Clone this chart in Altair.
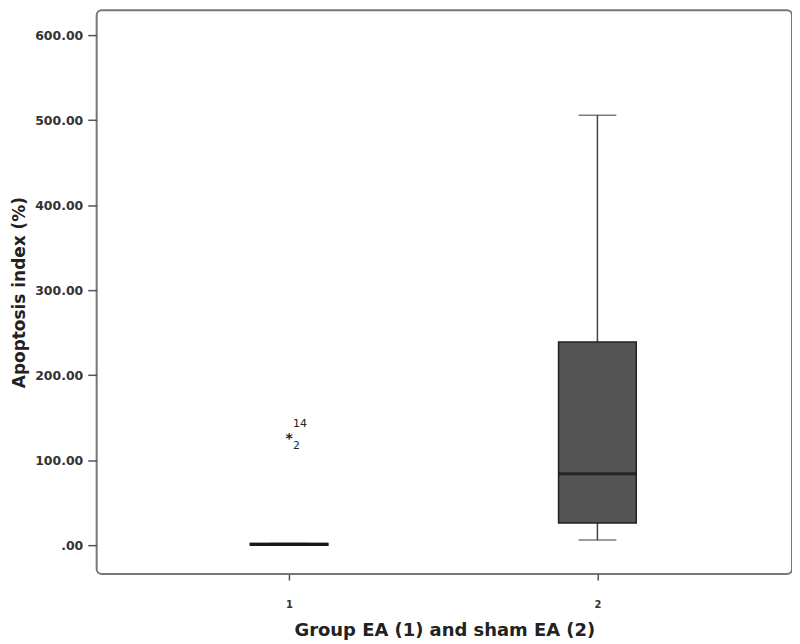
import altair as alt
import pandas as pd

groups = [1, 2]
lower = [0.0, 6.0]
q1 = [0.0, 26.0]
median = [1.0, 84.0]
q3 = [2.0, 239.0]
upper = [2.0, 506.0]

out_group = [1, 1]
out_value = [130.0, 130.0]
out_id = ["14", "2"]

stats = pd.DataFrame({"group": groups, "lower": lower, "q1": q1,
                      "median": median, "q3": q3, "upper": upper})
outl = pd.DataFrame({"group": out_group, "value": out_value, "id": out_id})

FONT = "DejaVu Sans"
xs = alt.Scale(domain=[0.392, 2.615], nice=False, zero=False)
ys = alt.Scale(domain=[-34, 629.5], nice=False, zero=False)

xax = alt.X("group:Q", scale=xs,
            axis=alt.Axis(values=[1, 2], format="d", title="Group EA (1) and sham EA (2)",
                          domain=False, grid=False, tickSize=6, tickColor="#555", tickWidth=1.5,
                          labelFont=FONT, labelFontSize=10, labelFontWeight="bold", labelColor="#333",
                          labelPadding=20, titleFont=FONT, titleFontSize=18, titleFontWeight="bold",
                          titleColor="#222", titlePadding=12))
yax = alt.Y("q1:Q", scale=ys,
            axis=alt.Axis(values=[0, 100, 200, 300, 400, 500, 600],
                          labelExpr="datum.value == 0 ? '.00' : format(datum.value, '.2f')",
                          title="Apoptosis index (%)", domain=False, grid=False,
                          tickSize=9, tickColor="#555", tickWidth=1.5,
                          labelFont=FONT, labelFontSize=12.5, labelFontWeight="bold", labelColor="#333",
                          labelPadding=5, titleFont=FONT, titleFontSize=17, titleFontWeight="bold",
                          titleColor="#222", titlePadding=6))

base = alt.Chart(stats)

whisker = base.mark_rule(color="#444", strokeWidth=1.5).encode(
    x=xax, y=alt.Y("lower:Q", scale=ys), y2="upper:Q")
cap_top = base.mark_tick(orient="horizontal", size=38, thickness=1.5, color="#444").encode(
    x=alt.X("group:Q", scale=xs), y=alt.Y("upper:Q", scale=ys))
cap_bot = base.mark_tick(orient="horizontal", size=38, thickness=1.5, color="#444").encode(
    x=alt.X("group:Q", scale=xs), y=alt.Y("lower:Q", scale=ys))
box = base.mark_bar(size=78, color="#555", stroke="#222", strokeWidth=1.5).encode(
    x=alt.X("group:Q", scale=xs), y=yax, y2="q3:Q")
med = base.mark_tick(orient="horizontal", size=78, thickness=3, color="#111").encode(
    x=alt.X("group:Q", scale=xs), y=alt.Y("median:Q", scale=ys))

star = alt.Chart(outl.head(1)).mark_text(text="*", font=FONT, fontSize=14, fontWeight="bold",
                                         color="#222", dy=4).encode(
    x=alt.X("group:Q", scale=xs), y=alt.Y("value:Q", scale=ys))
lab14 = alt.Chart(outl.iloc[[0]]).mark_text(font=FONT, fontSize=11, color="#222",
                                            align="left", dx=4, dy=-11).encode(
    x=alt.X("group:Q", scale=xs), y=alt.Y("value:Q", scale=ys), text="id:N")
lab2 = alt.Chart(outl.iloc[[1]]).mark_text(font=FONT, fontSize=11, color="#222",
                                           align="left", dx=4, dy=11).encode(
    x=alt.X("group:Q", scale=xs), y=alt.Y("value:Q", scale=ys), text="id:N")

chart = alt.layer(whisker, cap_top, cap_bot, box, med, star, lab14, lab2).properties(
    width=698, height=566,
    autosize=alt.AutoSizeParams(type="none"),
    padding={"left": 89, "top": 1, "right": 0, "bottom": 68},
    background="white",
).configure_view(stroke="#777", strokeWidth=2, cornerRadius=5)

chart.save("out.html", embed_options={"renderer": "svg", "actions": False})
